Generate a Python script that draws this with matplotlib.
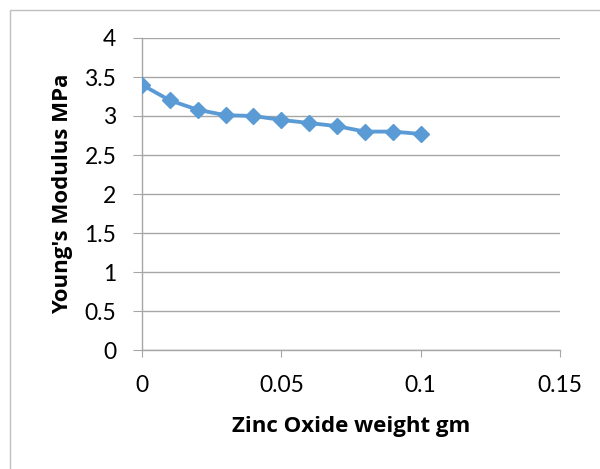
import matplotlib.pyplot as plt
from matplotlib.patches import Rectangle

# Zinc oxide weight (gm) vs Young's modulus (MPa)
zno_weight = [0, 0.01, 0.02, 0.03, 0.04, 0.05, 0.06, 0.07, 0.08, 0.09, 0.1]
youngs_modulus = [3.40, 3.20, 3.08, 3.01, 3.00, 2.95, 2.91, 2.87, 2.80, 2.80, 2.77]

x_ticks = [0, 0.05, 0.1, 0.15]
x_tick_labels = ["0", "0.05", "0.1", "0.15"]
y_ticks = [0, 0.5, 1, 1.5, 2, 2.5, 3, 3.5, 4]
y_tick_labels = ["0", "0.5", "1", "1.5", "2", "2.5", "3", "3.5", "4"]

plt.rcParams["font.family"] = ["Lato", "DejaVu Sans"]

fig = plt.figure(figsize=(6, 4.69), dpi=100)
# chart frame (cropped at right and bottom like the source)
fig.patches.append(Rectangle((10 / 600, -0.05), 1.0, 1 - 10 / 469 + 0.05,
                             transform=fig.transFigure, fill=False,
                             edgecolor="#bfbfbf", linewidth=1.0))

ax = fig.add_axes([142 / 600, 1 - 350 / 469, (560 - 142) / 600, (350 - 38) / 469])
ax.plot(zno_weight, youngs_modulus, color="#5b9bd5", linewidth=2.75,
        marker="D", markersize=8, markeredgecolor="#5b9bd5", zorder=3)

ax.set_xlim(0, 0.15)
ax.set_ylim(0, 4)
ax.set_xticks(x_ticks)
ax.set_xticklabels(x_tick_labels)
ax.set_yticks(y_ticks)
ax.set_yticklabels(y_tick_labels)
ax.grid(axis="y", color="#a6a6a6", linewidth=1.0)
ax.set_axisbelow(True)

for side in ["top", "right"]:
    ax.spines[side].set_visible(False)
for side in ["left", "bottom"]:
    ax.spines[side].set_color("#a6a6a6")
    ax.spines[side].set_linewidth(1.0)

ax.tick_params(axis="x", direction="out", length=5, color="#a6a6a6",
               labelsize=16.5, pad=13)
ax.tick_params(axis="y", direction="out", length=6.5, color="#a6a6a6",
               labelsize=16.5, pad=12)

label_font = {"family": ["Open Sans", "DejaVu Sans"], "weight": "bold", "size": 16}
ax.set_xlabel("Zinc Oxide weight gm", fontdict=label_font, va="center")
ax.set_ylabel("Young's Modulus MPa", fontdict=label_font, va="center")
ax.xaxis.set_label_coords(0.5, (350 - 426) / 312)
ax.yaxis.set_label_coords((63 - 142) / 418, 0.5)

plt.savefig("out.png", dpi=100)
